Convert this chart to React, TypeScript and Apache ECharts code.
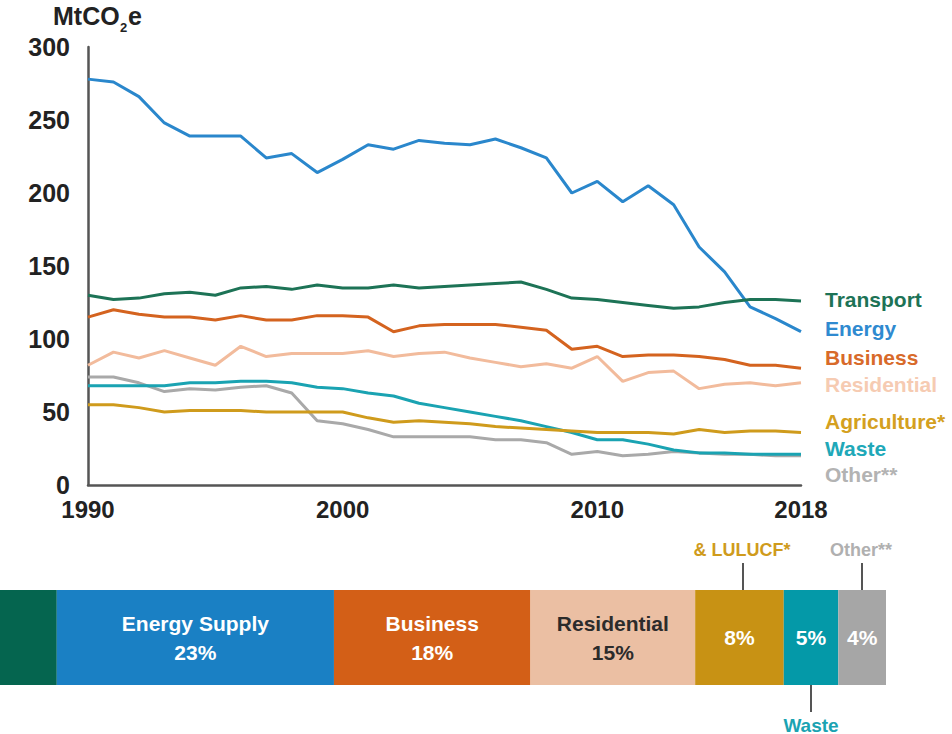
import React, { useEffect, useRef } from "react";
import * as echarts from "echarts";

const years = ["1990","1991","1992","1993","1994","1995","1996","1997","1998","1999","2000","2001","2002","2003","2004","2005","2006","2007","2008","2009","2010","2011","2012","2013","2014","2015","2016","2017","2018"];
const shownYears = ["1990", "2000", "2010", "2018"];

const transport = [130,127,128,131,132,130,135,136,134,137,135,135,137,135,136,137,138,139,134,128,127,125,123,121,122,125,127,127,126];
const energy = [278,276,266,248,239,239,239,224,227,214,223,233,230,236,234,233,237,231,224,200,208,194,205,192,163,146,122,114,105];
const business = [115,120,117,115,115,113,116,113,113,116,116,115,105,109,110,110,110,108,106,93,95,88,89,89,88,86,82,82,80];
const residential = [82,91,87,92,87,82,95,88,90,90,90,92,88,90,91,87,84,81,83,80,88,71,77,78,66,69,70,68,70];
const agriculture = [55,55,53,50,51,51,51,50,50,50,50,46,43,44,43,42,40,39,38,37,36,36,36,35,38,36,37,37,36];
const waste = [68,68,68,68,70,70,71,71,70,67,66,63,61,56,53,50,47,44,40,36,31,31,28,24,22,22,21,21,21];
const other = [74,74,70,64,66,65,67,68,63,44,42,38,33,33,33,33,31,31,29,21,23,20,21,23,22,21,21,20,20];

const seriesNames = ["Transport", "Energy", "Business", "Residential", "Agriculture*", "Waste", "Other**"];
const lineColors = ["#1d7356", "#2a87cc", "#d4631f", "#f2bb9c", "#cf9b1c", "#1aa3b2", "#a9a9a9"];
const labelColors = ["#1d7356", "#2f8ad0", "#d86a2a", "#f6cbb2", "#d4a020", "#20a8b8", "#b3b3b3"];
const labelY = [299, 328, 357, 384, 421, 448, 474];

// 2018 shares: bar widths and printed labels
const shareNames = ["Transport", "Energy Supply", "Business", "Residential", "Agriculture", "Waste", "Other"];
const shareValues = [27, 24.4, 17.3, 14.5, 7.8, 4.8, 4.2];
const shareLabels = ["27%", "23%", "18%", "15%", "8%", "5%", "4%"];
const shareColors = ["#05654f", "#1a80c4", "#d35f17", "#ebbfa3", "#c89214", "#0499a8", "#a6a6a6"];

const FONT = "Liberation Sans, Arial, Helvetica, sans-serif";

export default function App() {
  const ref = useRef<HTMLDivElement>(null);
  useEffect(() => {
    if (!ref.current) return;
    const chart = echarts.init(ref.current, null, { renderer: "svg" });
    const lineData = [transport, energy, business, residential, agriculture, waste, other];
    const lineSeries = lineData.map((d, i) => ({
      name: seriesNames[i],
      type: "line",
      xAxisIndex: 0,
      yAxisIndex: 0,
      data: d,
      showSymbol: false,
      lineStyle: { color: lineColors[i], width: 3 },
      itemStyle: { color: lineColors[i] },
      z: 10 - i,
    }));
    const barSeries = shareValues.map((v, i) => ({
      name: shareNames[i],
      type: "bar",
      stack: "share",
      xAxisIndex: 1,
      yAxisIndex: 1,
      data: [v],
      barWidth: "100%",
      itemStyle: { color: shareColors[i] },
      label: {
        show: i > 0,
        position: "inside",
        fontFamily: FONT,
        fontWeight: "bold",
        fontSize: 21,
        lineHeight: 29,
        color: i === 3 ? "#2b2b2b" : "#ffffff",
        formatter: i <= 3 ? `${shareNames[i]}\n${shareLabels[i]}` : `${shareLabels[i]}`,
      },
    }));
    const titleStyle = { fontFamily: FONT, fontWeight: "bold", fill: "#222" };
    const graphic: any[] = [
      { type: "text", x: 53, y: 28, style: { ...titleStyle, text: "MtCO", fontSize: 25, textVerticalAlign: "bottom" } },
      { type: "text", x: 120, y: 34, style: { ...titleStyle, text: "2", fontSize: 13, textVerticalAlign: "bottom" } },
      { type: "text", x: 128, y: 28, style: { ...titleStyle, text: "e", fontSize: 25, textVerticalAlign: "bottom" } },
      ...seriesNames.map((n, i) => ({
        type: "text",
        x: 825,
        y: labelY[i],
        style: {
          text: n,
          fontFamily: FONT,
          fontWeight: "bold",
          fontSize: 21,
          fill: labelColors[i],
          textAlign: "left",
          textVerticalAlign: "middle",
        },
      })),
      { type: "text", x: 742, y: 550, style: { text: "& LULUCF*", fontFamily: FONT, fontWeight: "bold", fontSize: 18, fill: "#cf9b1c", textAlign: "center", textVerticalAlign: "middle" } },
      { type: "line", shape: { x1: 743, y1: 563, x2: 743, y2: 590 }, style: { stroke: "#555", lineWidth: 2 } },
      { type: "text", x: 861, y: 550, style: { text: "Other**", fontFamily: FONT, fontWeight: "bold", fontSize: 18, fill: "#b0b0b0", textAlign: "center", textVerticalAlign: "middle" } },
      { type: "line", shape: { x1: 862, y1: 563, x2: 862, y2: 590 }, style: { stroke: "#555", lineWidth: 2 } },
      { type: "line", shape: { x1: 811, y1: 685, x2: 811, y2: 712 }, style: { stroke: "#555", lineWidth: 2 } },
      { type: "text", x: 811, y: 725, style: { text: "Waste", fontFamily: FONT, fontWeight: "bold", fontSize: 19, fill: "#1aa3b2", textAlign: "center", textVerticalAlign: "middle" } },
    ];
    chart.setOption({
      animation: false,
      backgroundColor: "#ffffff",
      grid: [
        { left: 88, right: 151, top: 47, height: 438, containLabel: false },
        { left: 0, right: 66, top: 590, height: 95, containLabel: false },
      ],
      xAxis: [
        {
          type: "category",
          gridIndex: 0,
          data: years,
          boundaryGap: false,
          axisLine: { show: true, lineStyle: { color: "#555", width: 2.5 } },
          axisTick: { show: false },
          axisLabel: {
            interval: (_idx: number, val: string) => shownYears.includes(val),
            margin: 12,
            fontFamily: FONT,
            fontWeight: "bold",
            fontSize: 24,
            color: "#222",
          },
          splitLine: { show: false },
        },
        { type: "value", gridIndex: 1, min: 22, max: 100, show: false },
      ],
      yAxis: [
        {
          type: "value",
          gridIndex: 0,
          min: 0,
          max: 300,
          interval: 50,
          axisLine: { show: true, lineStyle: { color: "#555", width: 2.5 } },
          axisTick: { show: false },
          splitLine: { show: false },
          axisLabel: {
            margin: 18,
            fontFamily: FONT,
            fontWeight: "bold",
            fontSize: 25,
            color: "#222",
          },
        },
        { type: "category", gridIndex: 1, data: ["2018"], show: false },
      ],
      graphic,
      series: [...lineSeries, ...barSeries],
    });
    return () => chart.dispose();
  }, []);
  return <div ref={ref} style={{ width: 952, height: 734, position: "absolute", left: 0, top: 0 }} />;
}
